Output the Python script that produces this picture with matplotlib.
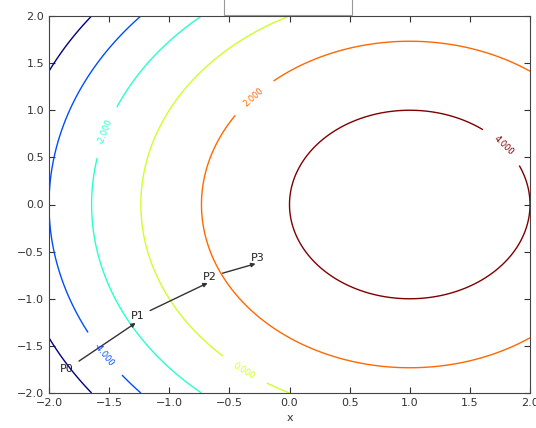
import numpy as np
import matplotlib
matplotlib.use("Agg")
import matplotlib.pyplot as plt

# contour levels and label positions
levels = [-6, -4, -2, 0, 2, 4]
label_pos = [(1.78, 0.63), (-0.30, 1.14), (-0.39, -1.79), (-1.55, 0.78), (-1.55, -1.60)]

# path points
px = [-1.85, -1.26, -0.66, -0.26]
py = [-1.80, -1.24, -0.82, -0.62]
names = ["P0", "P1", "P2", "P3"]

def f(x, y):
    return 5 - (x - 1) ** 2 - y ** 2

x = np.linspace(-2, 2, 400)
y = np.linspace(-2, 2, 400)
X, Y = np.meshgrid(x, y)
Z = f(X, Y)

fig = plt.figure(figsize=(5.36, 4.28), dpi=100)
ax = fig.add_axes([49/536, 35/428, 481/536, 377/428])
cs = ax.contour(X, Y, Z, levels=levels, cmap="jet", linewidths=1.0)
ax.clabel(cs, inline=True, fontsize=6, fmt="%1.3f", manual=label_pos, inline_spacing=14)

for i in range(len(px) - 1):
    ax.annotate(names[i], xy=(px[i + 1], py[i + 1]), xytext=(px[i], py[i]),
                ha="center", va="bottom", fontsize=8, color="#222222",
                arrowprops=dict(arrowstyle="-|>", color="#333333", lw=1.0,
                                mutation_scale=6))
ax.text(px[-1], py[-1], names[-1], ha="center", va="bottom", fontsize=8, color="#222222")

ax.set_xlim(-2, 2)
ax.set_ylim(-2, 2)
ax.set_xticks(np.arange(-2, 2.01, 0.5))
ax.set_yticks(np.arange(-2, 2.01, 0.5))
ax.tick_params(direction="in", top=True, right=True, labelsize=8, colors="#333333", length=4)
for s in ax.spines.values():
    s.set_color("#444444")
ax.set_xlabel("x", fontsize=8, labelpad=4, color="#333333")

fig.text(288/536, 0.988, " " * 30, ha="center", va="center", fontsize=9,
         bbox=dict(boxstyle="square,pad=0.3", fc="white", ec="#999999", lw=0.8))

fig.savefig("out.png", dpi=100, facecolor="white")
